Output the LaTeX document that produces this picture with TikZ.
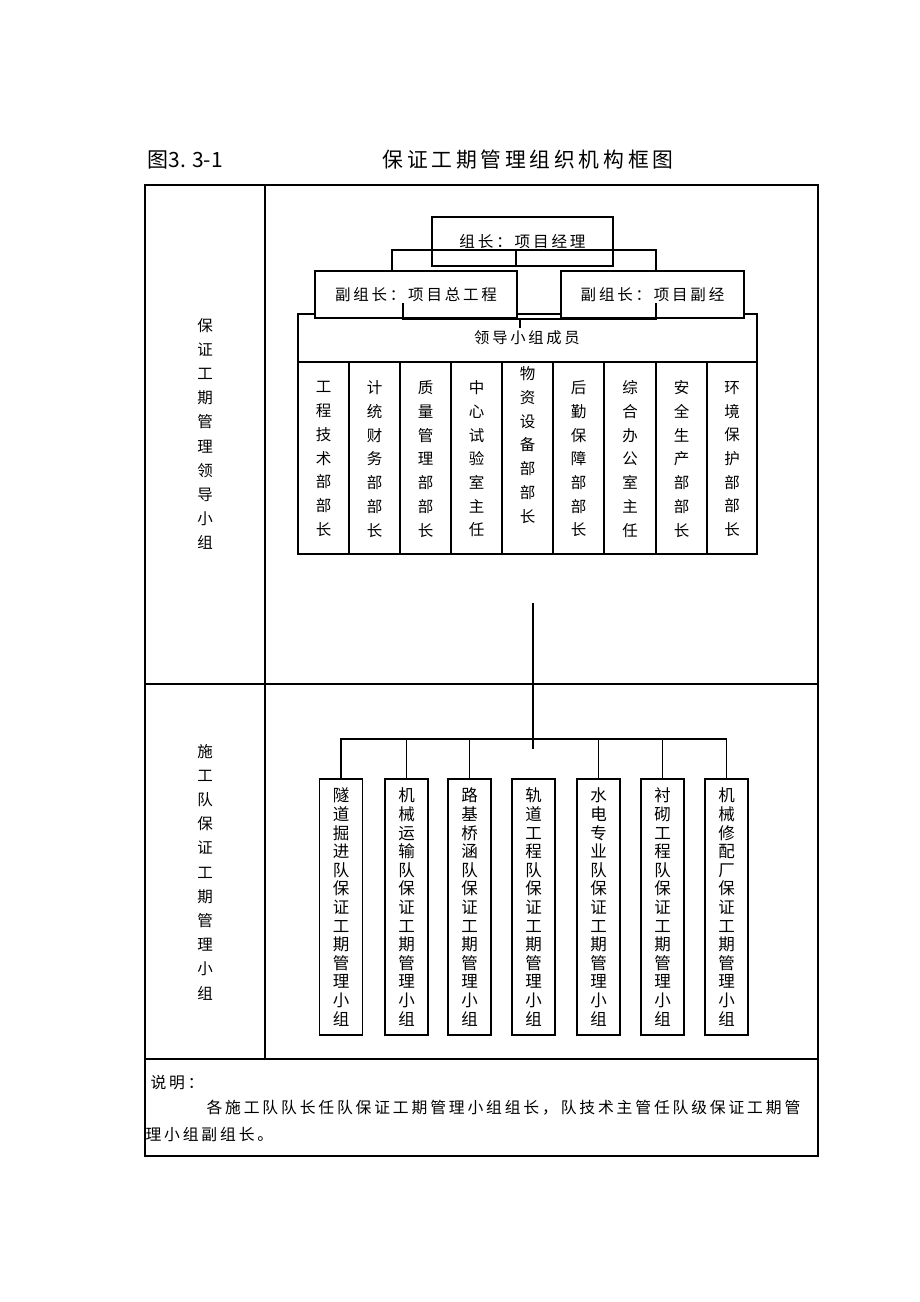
\documentclass[tikz,border=0pt]{standalone}
\usepackage{fontspec}
\setmainfont{Noto Sans CJK SC}[LetterSpace=18]
\newfontfamily\vfont{Noto Sans CJK SC}
\usetikzlibrary{positioning}

\begin{document}
\begin{tikzpicture}[x=1pt,y=-1pt,line width=1.1pt,
    every node/.style={inner sep=0pt},
    leadbox/.style={draw,fill=white,minimum height=47,font=\fontsize{15.5}{18}\selectfont},
    colname/.style={align=center,font=\vfont\fontsize{15.5}{23.7}\selectfont},
    sidename/.style={align=center,font=\vfont\fontsize{15.5}{24.2}\selectfont},
    teambox/.style={draw,minimum width=43,minimum height=256,align=center,font=\vfont\fontsize{16.5}{18.6}\selectfont},
    note/.style={anchor=west,font=\fontsize{15.8}{20}\selectfont}]
    \useasboundingbox (0,0) rectangle (920,1302);
    % title
    \node[anchor=west,font=\vfont\fontsize{21}{24}\selectfont] (fignum) at (147,160) {图3. 3-1};
    \node[font=\fontsize{20.8}{24}\selectfont] (title) at (528,160) {保证工期管理组织机构框图};
    % frame
    \draw (145,185) rectangle (818,1156);
    \draw (265,185) -- (265,1059);
    \draw (145,684) -- (818,684);
    \draw (145,1059) -- (818,1059);
    \node[sidename] (leadgroup) at (205,434) {保\\证\\工\\期\\管\\理\\领\\导\\小\\组};
    \node[sidename] (teamgroup) at (205,872) {施\\工\\队\\保\\证\\工\\期\\管\\理\\小\\组};
    % members
    \draw (298,314) rectangle (757,554);
    \draw (298,362) -- (757,362);
    \foreach \x in {349,400,451,502,553,604,656,707}
        \draw (\x,362) -- (\x,554);
    \node[font=\fontsize{15.3}{18}\selectfont] (members) at (527,338) {领导小组成员};
    \foreach \x/\y/\t [count=\i] in {323.5/459/{工\\程\\技\\术\\部\\部\\长},
            374.5/459/{计\\统\\财\\务\\部\\部\\长}, 425.5/459/{质\\量\\管\\理\\部\\部\\长},
            476.5/459/{中\\心\\试\\验\\室\\主\\任}, 527.5/445/{物\\资\\设\\备\\部\\部\\长},
            578.5/459/{后\\勤\\保\\障\\部\\部\\长}, 630/459/{综\\合\\办\\公\\室\\主\\任},
            681.5/459/{安\\全\\生\\产\\部\\部\\长}, 732/459/{环\\境\\保\\护\\部\\部\\长}}
        \node[colname] (dept\i) at (\x,\y) {\t};
    % deputies
    \node[leadbox,minimum width=202] (dep1) at (416,294.5) {副组长：项目总工程};
    \node[leadbox,minimum width=183] (dep2) at (652.5,294.5) {副组长：项目副经};
    \coordinate (bl) at (403,303);
    \coordinate (br) at (656,303);
    \coordinate (bm) at (520,319);
    \coordinate (bmd) at (520,328);
    \draw (bl) |- (bm) -| (br);
    \draw (bm) -- (bmd);
    % leader
    \node[draw,minimum width=181,minimum height=49,font=\fontsize{15.6}{18}\selectfont] (leader) at (522.5,241.5) {组长：项目经理};
    \coordinate (tl) at (392,250);
    \coordinate (tr) at (656,250);
    \coordinate (tm) at (516,250);
    \draw (dep1.north -| tl) |- (tr) -- (dep2.north -| tr);
    \draw (tm) -- (tm |- leader.south);
    % teams
    \foreach \x/\t [count=\i] in {341/{隧\\道\\掘\\进\\队\\保\\证\\工\\期\\管\\理\\小\\组},
            406.5/{机\\械\\运\\输\\队\\保\\证\\工\\期\\管\\理\\小\\组},
            469.5/{路\\基\\桥\\涵\\队\\保\\证\\工\\期\\管\\理\\小\\组},
            533.5/{轨\\道\\工\\程\\队\\保\\证\\工\\期\\管\\理\\小\\组},
            598.5/{水\\电\\专\\业\\队\\保\\证\\工\\期\\管\\理\\小\\组},
            662.5/{衬\\砌\\工\\程\\队\\保\\证\\工\\期\\管\\理\\小\\组},
            726.5/{机\\械\\修\\配\\厂\\保\\证\\工\\期\\管\\理\\小\\组}}
        \node[teambox] (team\i) at (\x,907) {\t};
    \coordinate (trunk) at (533,603);
    \coordinate (trunkend) at (533,749);
    \coordinate (bus) at (533,739);
    \draw (trunk) -- (trunkend);
    \draw (team1.north) -- (team1.north |- bus) -- (team7.north |- bus) -- (team7.north);
    \foreach \i in {2,3,5,6}
        \draw (team\i.north) -- (team\i.north |- bus);
    % note
    \node[note] (notehead) at (150,1083) {说明：};
    \node[note] (noteline1) at (206,1108) {各施工队队长任队保证工期管理小组组长，队技术主管任队级保证工期管};
    \node[note] (noteline2) at (145,1134) {理小组副组长。};
\end{tikzpicture}
\end{document}
